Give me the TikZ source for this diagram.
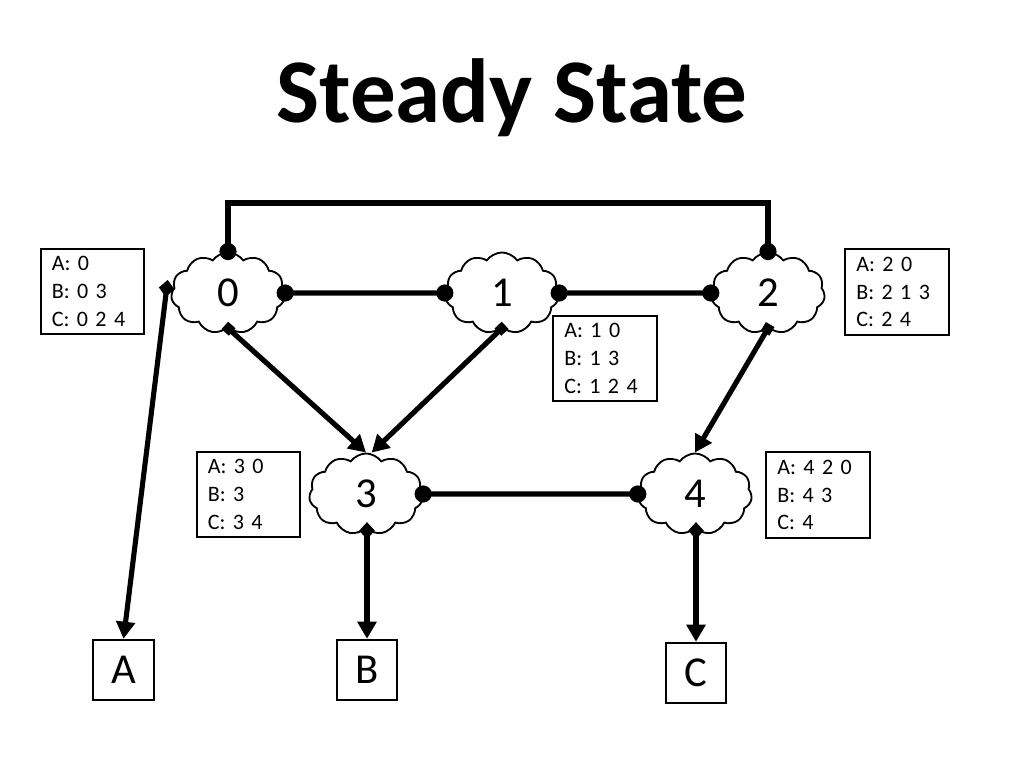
\documentclass[tikz,border=0pt]{standalone}
\usepackage{fontspec}
\setmainfont{Carlito}
\usetikzlibrary{shapes.symbols,arrows.meta,calc}
\begin{document}
\begin{tikzpicture}[x=0.703125pt,y=-0.703125pt,
  cloudnode/.style={cloud, draw, line width=1.3pt, cloud puffs=11, cloud puff arc=110,
    minimum width=80pt, minimum height=57pt, inner sep=0pt, fill=white,
    font=\fontsize{30}{31}\selectfont},
  infobox/.style={draw, line width=1.4pt, minimum width=73pt, minimum height=60pt,
    text width=57pt, align=left, inner sep=0pt, font=\fontsize{15.5}{19.5}\selectfont},
  destbox/.style={draw, line width=1.4pt, minimum width=42.5pt, minimum height=42.5pt,
    inner sep=0pt, font=\fontsize{30}{32}\selectfont},
  link/.style={line width=3.6pt, {Circle[length=12pt]}-{Circle[length=12pt]},
    shorten <=-6pt, shorten >=-6pt},
  flow/.style={line width=3.6pt, {Square[length=7pt,width=7pt]}-{Triangle[length=12pt,width=13pt]},
    shorten <=-3pt},
  exitflow/.style={line width=3.6pt, {Diamond[length=12pt,width=11pt]}-{Triangle[length=12pt,width=13pt]},
    shorten <=-5pt},
]
\useasboundingbox (0,0) rectangle (1024,768);
\node[font=\fontsize{64}{70}\selectfont\bfseries] (title) at (512,98) {Steady State};

% clouds
\node[cloudnode] (c0) at (228,293) {0};
\node[cloudnode] (c1) at (502,293) {1};
\node[cloudnode] (c2) at (768,293) {2};
\node[cloudnode] (c3) at (366,494) {3};
\node[cloudnode] (c4) at (695,494) {4};

% info boxes
\node[infobox] (b0) at (92.5,291.5) {A: 0\\B: 0 3\\C: 0 2 4};
\node[infobox] (b1) at (605,358.5) {A: 1 0\\B: 1 3\\C: 1 2 4};
\node[infobox] (b2) at (897,292) {A: 2 0\\B: 2 1 3\\C: 2 4};
\node[infobox] (b3) at (248.5,494.5) {A: 3 0\\B: 3\\C: 3 4};
\node[infobox] (b4) at (818,495) {A: 4 2 0\\B: 4 3\\C: 4};

% destinations
\node[destbox] (A) at (123.5,670) {A};
\node[destbox] (B) at (367,670) {B};
\node[destbox] (C) at (696,673) {C};

% links
\coordinate (topy) at (0,203);
\draw[link] (c0.north) -- (c0.north |- topy) -- (c2.north |- topy) -- (c2.north);
\draw[link] (c0.east) -- (c1.west);
\draw[link] (c1.east) -- (c2.west);
\draw[link] (c3.east) -- (c4.west);

% flows
\draw[flow] (c0.south) -- (c3.north);
\draw[flow] (c1.south) -- ([xshift=4pt]c3.north);
\draw[flow] (c2.south) -- (c4.north);
\draw[exitflow] ([shift={(-4,-6)}]c0.west) -- (A.north);
\draw[exitflow] (c3.south -| B.north) -- (B.north);
\draw[exitflow] (c4.south -| C.north) -- (C.north);
\end{tikzpicture}
\end{document}
